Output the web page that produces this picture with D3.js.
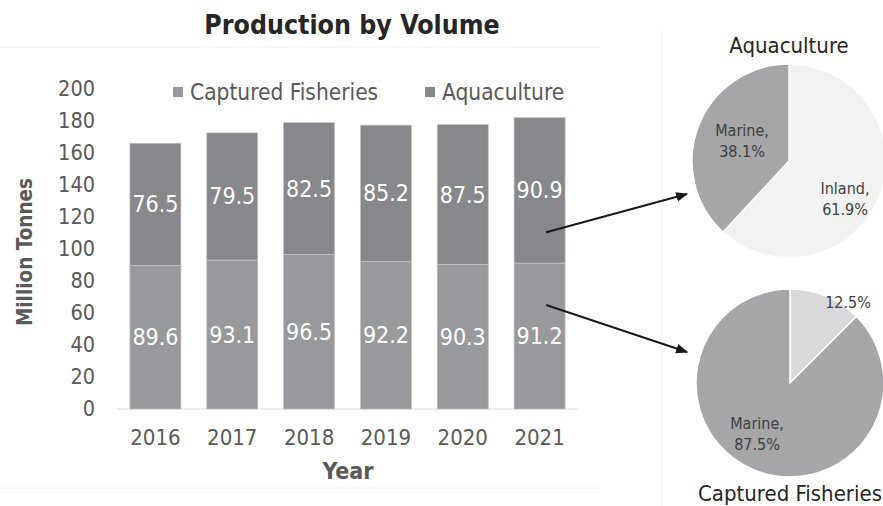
<!DOCTYPE html>
<html>
<head>
<meta charset="utf-8">
<script src="https://cdn.jsdelivr.net/npm/d3@7"></script>
<style>
  body { margin: 0; background: #fff; }
  svg text { font-family: "DejaVu Sans Condensed", "DejaVu Sans", sans-serif; font-stretch: condensed; }
</style>
</head>
<body>
<div id="chart"></div>
<script>
const years = ["2016", "2017", "2018", "2019", "2020", "2021"];
const captured = [89.6, 93.1, 96.5, 92.2, 90.3, 91.2];
const aquaculture = [76.5, 79.5, 82.5, 85.2, 87.5, 90.9];
const yTicks = [0, 20, 40, 60, 80, 100, 120, 140, 160, 180, 200];

// pie slices listed clockwise from 12 o'clock
const aquaSplit = [{ name: "Inland", value: 61.9 }, { name: "Marine", value: 38.1 }];
const captSplit = [{ name: "Inland", value: 12.5 }, { name: "Marine", value: 87.5 }];

const W = 883, H = 506;
const svg = d3.select("#chart").append("svg")
    .attr("width", W)
    .attr("height", H);

// faint panel outlines
const faint = "#f0f0f0";
svg.append("line").attr("x1", 0).attr("x2", 600).attr("y1", 47).attr("y2", 47).attr("stroke", faint);
svg.append("line").attr("x1", 0).attr("x2", 600).attr("y1", 488).attr("y2", 488).attr("stroke", faint);
svg.append("line").attr("x1", 662).attr("x2", 662).attr("y1", 30).attr("y2", 506).attr("stroke", faint);

// ---- bar chart ----
const x = d3.scaleBand()
    .domain(years)
    .range([117, 578])
    .paddingInner(0.336)
    .paddingOuter(0.168);

const y = d3.scaleLinear()
    .domain([0, 200])
    .range([409, 89]);

const capColor = "#98999d", aquaColor = "#87888c";

svg.append("text")
    .attr("x", 352).attr("y", 34)
    .attr("text-anchor", "middle")
    .attr("font-size", 26.5).attr("font-weight", "bold")
    .attr("fill", "#262626")
    .text("Production by Volume");

const yAxis = svg.append("g")
    .attr("transform", "translate(95,0)")
    .call(d3.axisLeft(y).tickValues(yTicks).tickSize(0).tickPadding(0));
yAxis.select(".domain").remove();
yAxis.selectAll("text").attr("font-size", 21.5).attr("fill", "#595959");

const xAxis = svg.append("g")
    .attr("transform", "translate(0,409)")
    .call(d3.axisBottom(x).tickSize(0).tickPadding(20));
xAxis.select(".domain").attr("stroke", "#d9d9d9").attr("d", "M117,0H578");
xAxis.selectAll("text").attr("font-size", 22).attr("fill", "#595959");

svg.append("text")
    .attr("transform", "translate(32,252) rotate(-90)")
    .attr("text-anchor", "middle")
    .attr("font-size", 20.5).attr("font-weight", "bold")
    .attr("fill", "#595959")
    .text("Million Tonnes");

svg.append("text")
    .attr("x", 348).attr("y", 479)
    .attr("text-anchor", "middle")
    .attr("font-size", 23).attr("font-weight", "bold")
    .attr("fill", "#595959")
    .text("Year");

const rows = years.map((yr, i) => ({ year: yr, cap: captured[i], aqua: aquaculture[i] }));

const bars = svg.append("g");
bars.selectAll("rect.cap").data(rows).enter().append("rect")
    .attr("x", d => x(d.year)).attr("width", x.bandwidth())
    .attr("y", d => y(d.cap)).attr("height", d => y(0) - y(d.cap))
    .attr("fill", capColor).attr("stroke", "#c4c4c6").attr("stroke-width", 0.7);
bars.selectAll("rect.aqua").data(rows).enter().append("rect")
    .attr("x", d => x(d.year)).attr("width", x.bandwidth())
    .attr("y", d => y(d.cap + d.aqua)).attr("height", d => y(d.cap) - y(d.cap + d.aqua))
    .attr("fill", aquaColor).attr("stroke", "#c4c4c6").attr("stroke-width", 0.7);

bars.selectAll("text.cap").data(rows).enter().append("text")
    .attr("x", d => x(d.year) + x.bandwidth() / 2)
    .attr("y", d => y(d.cap / 2)).attr("dy", "0.35em")
    .attr("text-anchor", "middle").attr("font-size", 23).attr("fill", "#fff")
    .text(d => d.cap.toFixed(1));
bars.selectAll("text.aqua").data(rows).enter().append("text")
    .attr("x", d => x(d.year) + x.bandwidth() / 2)
    .attr("y", d => y(d.cap + d.aqua / 2)).attr("dy", "0.35em")
    .attr("text-anchor", "middle").attr("font-size", 23).attr("fill", "#fff")
    .text(d => d.aqua.toFixed(1));

// legend
const legend = [{ name: "Captured Fisheries", color: capColor, x: 173 }, { name: "Aquaculture", color: aquaColor, x: 425 }];
const lg = svg.append("g").selectAll("g").data(legend).enter().append("g")
    .attr("transform", d => `translate(${d.x},92)`);
lg.append("rect").attr("x", 0).attr("y", -5).attr("width", 10).attr("height", 10).attr("fill", d => d.color);
lg.append("text").attr("x", 17).attr("dy", "0.35em")
    .attr("font-size", 22.5).attr("fill", "#595959").text(d => d.name);

// ---- pies ----
const pie = d3.pie().sort(null).value(d => d.value);

function drawPie(data, cx, cy, r, colors, labels, title, titleY) {
    const g = svg.append("g").attr("transform", `translate(${cx},${cy})`);
    const arcs = pie(data);
    const arc = d3.arc().innerRadius(0).outerRadius(r);
    g.selectAll("path").data(arcs).enter().append("path")
        .attr("d", arc)
        .attr("fill", (d, i) => colors[i])
        .attr("stroke", "#fff").attr("stroke-width", 1.5);
    labels.forEach(l => {
        const t = g.append("text")
            .attr("text-anchor", "middle")
            .attr("font-size", 16).attr("fill", "#404040");
        l.lines.forEach((line, k) => {
            t.append("tspan").attr("x", l.dx).attr("y", l.dy + k * 21).text(line);
        });
    });
    svg.append("text")
        .attr("x", cx).attr("y", titleY)
        .attr("text-anchor", "middle")
        .attr("font-size", 22).attr("fill", "#262626")
        .text(title);
}

drawPie(aquaSplit, 789, 161, 97, ["#f2f2f2", "#a6a6a9"],
    [{ lines: ["Inland,", "61.9%"], dx: 56, dy: 33 },
     { lines: ["Marine,", "38.1%"], dx: -47, dy: -25 }],
    "Aquaculture", 53);

drawPie(captSplit, 790, 383, 94, ["#d9d9db", "#a6a6a9"],
    [{ lines: ["12.5%"], dx: 58, dy: -75 },
     { lines: ["Marine,", "87.5%"], dx: -33, dy: 46 }],
    "Captured Fisheries", 501);

// ---- arrows ----
const defs = svg.append("defs");
defs.append("marker")
    .attr("id", "arrow")
    .attr("viewBox", "0 0 10 10")
    .attr("refX", 9).attr("refY", 5)
    .attr("markerWidth", 6).attr("markerHeight", 6)
    .attr("orient", "auto")
    .append("path").attr("d", "M0,1L10,5L0,9z").attr("fill", "#1a1a1a");

const ax = x("2021") + x.bandwidth() * 0.63;
const arrows = [
    { x1: ax, y1: y(110.5), x2: 687, y2: 194 },
    { x1: ax, y1: y(65), x2: 687, y2: 352 }
];
svg.append("g").selectAll("line").data(arrows).enter().append("line")
    .attr("x1", d => d.x1).attr("y1", d => d.y1)
    .attr("x2", d => d.x2).attr("y2", d => d.y2)
    .attr("stroke", "#1a1a1a").attr("stroke-width", 2)
    .attr("marker-end", "url(#arrow)");
</script>
</body>
</html>
